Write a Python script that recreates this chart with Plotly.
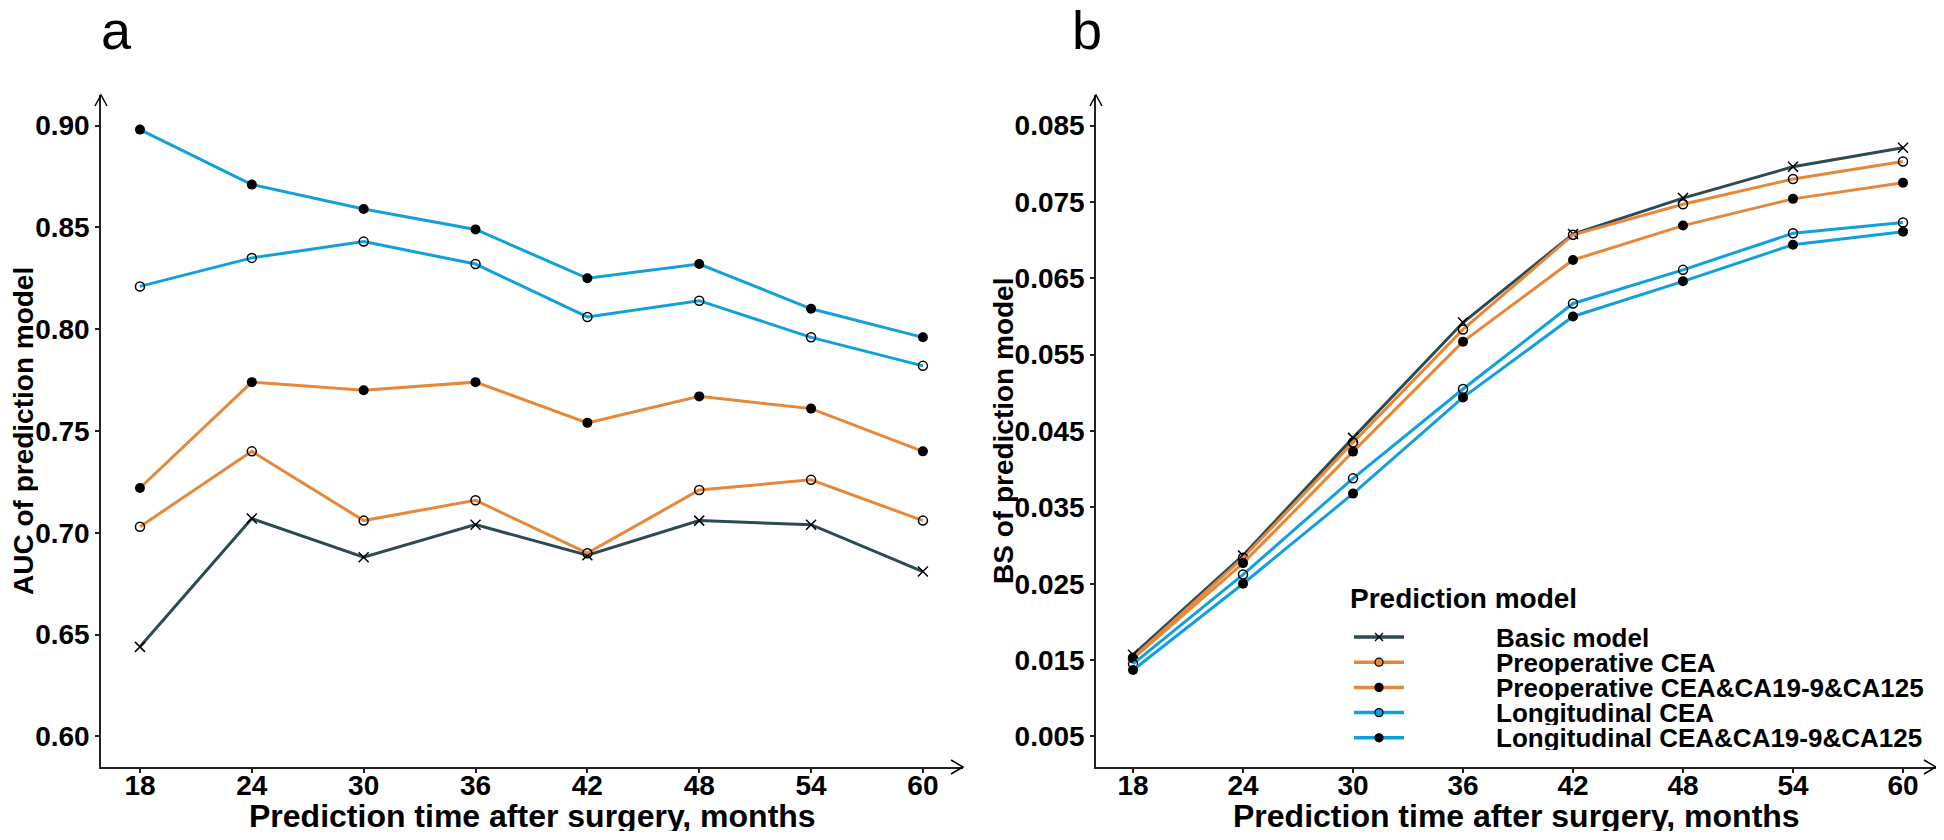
import plotly.graph_objects as go

months = [18, 24, 30, 36, 42, 48, 54, 60]
model_names = ["Basic model", "Preoperative CEA", "Preoperative CEA&CA19-9&CA125",
               "Longitudinal CEA", "Longitudinal CEA&CA19-9&CA125"]

# AUC values (panel a)
auc_basic = [0.644, 0.707, 0.688, 0.704, 0.689, 0.706, 0.704, 0.681]
auc_pre_cea = [0.703, 0.740, 0.706, 0.716, 0.690, 0.721, 0.726, 0.706]
auc_pre_all = [0.722, 0.774, 0.770, 0.774, 0.754, 0.767, 0.761, 0.740]
auc_long_cea = [0.821, 0.835, 0.843, 0.832, 0.806, 0.814, 0.796, 0.782]
auc_long_all = [0.898, 0.871, 0.859, 0.849, 0.825, 0.832, 0.810, 0.796]

# Brier score values (panel b)
bs_basic = [0.0157, 0.0287, 0.0441, 0.0592, 0.0708, 0.0755, 0.0796, 0.0821]
bs_pre_cea = [0.0153, 0.0284, 0.0435, 0.0583, 0.0707, 0.0747, 0.0780, 0.0803]
bs_pre_all = [0.0152, 0.0277, 0.0423, 0.0567, 0.0674, 0.0719, 0.0754, 0.0775]
bs_long_cea = [0.0145, 0.0262, 0.0388, 0.0505, 0.0617, 0.0661, 0.0709, 0.0723]
bs_long_all = [0.0137, 0.0250, 0.0368, 0.0494, 0.0600, 0.0646, 0.0694, 0.0711]

auc_ticks = [0.60, 0.65, 0.70, 0.75, 0.80, 0.85, 0.90]
bs_ticks = [0.005, 0.015, 0.025, 0.035, 0.045, 0.055, 0.065, 0.075, 0.085]

dark = "#2d4a53"
orange = "#e5883a"
blue = "#12a0da"
line_colors = [dark, orange, orange, blue, blue]
marker_kinds = ["x", "open", "filled", "open", "filled"]
marker_styles = {
    "x": dict(symbol="x-thin-open", size=10, color="black", line=dict(color="black", width=1.5)),
    "open": dict(symbol="circle-open", size=9, color="black", line=dict(color="black", width=1.5)),
    "filled": dict(symbol="circle", size=10, color="black", line=dict(width=0)),
}

FONT = "Liberation Sans, Arial, sans-serif"

# the page body has an 8px margin, so the figure is drawn 16px smaller
W, H = 1928, 824
OFF = 8


def px(x, y):
    # screen pixel -> paper coords
    return (x - OFF) / W, 1 - (y - OFF) / H


fig = go.Figure()

auc_series = [auc_basic, auc_pre_cea, auc_pre_all, auc_long_cea, auc_long_all]
bs_series = [bs_basic, bs_pre_cea, bs_pre_all, bs_long_cea, bs_long_all]

for i in range(5):
    fig.add_trace(go.Scatter(x=months, y=auc_series[i], mode="lines+markers", name=model_names[i],
                             line=dict(color=line_colors[i], width=3), marker=marker_styles[marker_kinds[i]],
                             xaxis="x", yaxis="y", showlegend=False))
for i in range(5):
    fig.add_trace(go.Scatter(x=months, y=bs_series[i], mode="lines+markers", name=model_names[i],
                             line=dict(color=line_colors[i], width=3), marker=marker_styles[marker_kinds[i]],
                             xaxis="x2", yaxis="y2", showlegend=False))

axis_common = dict(showline=True, linecolor="#222222", linewidth=1.5, showgrid=False, zeroline=False,
                   ticks="outside", ticklen=4, tickcolor="#222222", tickwidth=1.5,
                   tickfont=dict(family=FONT, size=28, color="black", weight="bold"))

xa0, ya_top = px(101, 95)
xa1, ya_bot = px(963, 767)
xb0, _ = px(1096, 95)
ydom = [ya_bot, ya_top]

fig.update_layout(
    width=W, height=H,
    paper_bgcolor="white", plot_bgcolor="white",
    margin=dict(l=0, r=0, t=0, b=0),
    showlegend=False,
    xaxis=dict(domain=[xa0, xa1], range=[15.91, 62.15], tickvals=months, anchor="y",
               ticklabelstandoff=-11, **axis_common),
    yaxis=dict(domain=ydom, range=[0.585, 0.915], tickvals=auc_ticks, tickformat=".2f", anchor="x",
               **axis_common),
    xaxis2=dict(domain=[xb0, 1.0], range=[15.98, 61.8], tickvals=months, anchor="y2",
                ticklabelstandoff=-11, **axis_common),
    yaxis2=dict(domain=ydom, range=[0.001, 0.089], tickvals=bs_ticks, tickformat=".3f", anchor="x2",
                **axis_common),
)

shapes = []
annotations = []

# arrow heads at the ends of the axes
for (x0, x1) in [(101, 963), (1096, 1936)]:
    xa, yb = px(x1, 767)
    xl, yu = px(x1 - 12, 760)
    _, yd = px(x1 - 12, 774)
    shapes.append(dict(type="path", xref="paper", yref="paper",
                       path=f"M{xl},{yu} L{xa},{yb} L{xl},{yd}",
                       line=dict(color="black", width=1.5)))
    xt, yt = px(x0, 95)
    xlft, ya = px(x0 - 6, 106)
    xrgt, _ = px(x0 + 6, 106)
    shapes.append(dict(type="path", xref="paper", yref="paper",
                       path=f"M{xlft},{ya} L{xt},{yt} L{xrgt},{ya}",
                       line=dict(color="black", width=1.5)))

# axis titles
for cx, ytitle, cy_x in [(532, "AUC of prediction model", 23), (1516, "BS of prediction model", 1003)]:
    x, y = px(cx, 816)
    annotations.append(dict(text="Prediction time after surgery, months", x=x, y=y, xref="paper", yref="paper",
                            xanchor="center", yanchor="middle", showarrow=False, height=30,
                            font=dict(family=FONT, size=32, color="black", weight="bold")))
    x, y = px(cy_x, 431)
    annotations.append(dict(text=ytitle, x=x, y=y, xref="paper", yref="paper", textangle=-90,
                            xanchor="center", yanchor="middle", showarrow=False, height=30,
                            font=dict(family=FONT, size=28, color="black", weight="bold")))

# panel letters
for letter, cx in [("a", 116), ("b", 1087)]:
    x, y = px(cx, 30)
    annotations.append(dict(text=letter, x=x, y=y, xref="paper", yref="paper", xanchor="center",
                            yanchor="middle", showarrow=False, height=40,
                            font=dict(family=FONT, size=54, color="black")))

# legend drawn by hand so the row spacing matches
x, y = px(1348, 598)
annotations.append(dict(text="Prediction model", x=x, y=y, xref="paper", yref="paper", xanchor="left",
                        yanchor="middle", showarrow=False, height=30,
                        font=dict(family=FONT, size=28, color="black", weight="bold")))
for i in range(5):
    row_y = 637 + 25.2 * i
    x, y = px(1494, row_y)
    annotations.append(dict(text=model_names[i], x=x, y=y, xref="paper", yref="paper", xanchor="left",
                            yanchor="middle", showarrow=False, height=25,
                            font=dict(family=FONT, size=26, color="black", weight="bold")))
    lx0, ly = px(1354, row_y)
    lx1, _ = px(1404, row_y)
    shapes.append(dict(type="line", xref="paper", yref="paper", x0=lx0, x1=lx1, y0=ly, y1=ly,
                       line=dict(color=line_colors[i], width=3.5)))
    kind = marker_kinds[i]
    a0, b0 = px(1375, row_y - 4)
    a1, b1 = px(1383, row_y + 4)
    if kind == "x":
        shapes.append(dict(type="path", xref="paper", yref="paper",
                           path=f"M{a0},{b0} L{a1},{b1} M{a0},{b1} L{a1},{b0}",
                           line=dict(color="black", width=1.3)))
    else:
        shapes.append(dict(type="circle", xref="paper", yref="paper", x0=a0, x1=a1, y0=b1, y1=b0,
                           fillcolor="black" if kind == "filled" else line_colors[i],
                           line=dict(color="black", width=1.3)))

fig.update_layout(shapes=shapes, annotations=annotations)

fig.write_html("out.html")
